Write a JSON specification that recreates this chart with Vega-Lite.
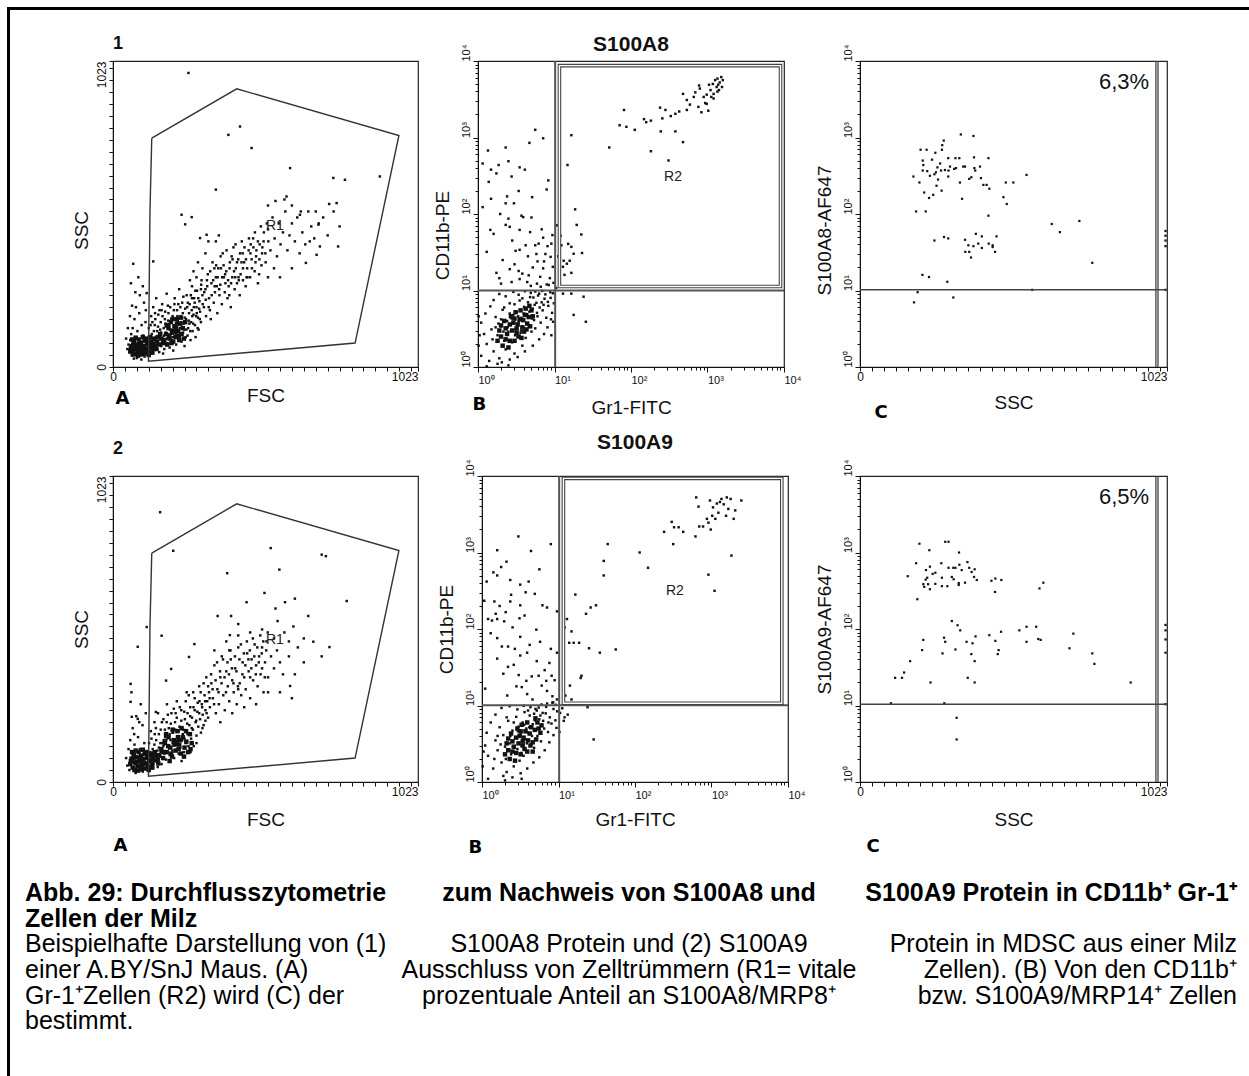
{
"$schema": "https://vega.github.io/schema/vega-lite/v6.json",
"background": "white",
"autosize": {"type": "pad"},
"padding": {"left": 7, "top": 7, "right": 0, "bottom": 0},
"config": {
 "view": {"stroke": null},
 "font": "Liberation Sans",
 "axis": {"grid": false, "domainColor": "#111", "tickColor": "#111", "labelColor": "#111", "titleColor": "#111", "titleFontWeight": "normal", "labelFont": "Liberation Sans", "titleFont": "Liberation Sans", "titleFontSize": 19, "labelFontSize": 12, "labelOverlap": false},
 "title": {"font": "Liberation Sans", "fontWeight": "bold", "color": "#111"},
 "text": {"font": "Liberation Sans"}
},
"datasets": {
"gateA": [{"i":0,"x":130,"y":765},{"i":1,"x":415,"y":930},{"i":2,"x":959,"y":774},{"i":3,"x":812,"y":80},{"i":4,"x":119,"y":19},{"i":5,"x":124,"y":520},{"i":6,"x":130,"y":765}],
"a1": [{"x":48,"y":60},{"x":52,"y":75},{"x":55,"y":48},{"x":58,"y":90},{"x":61,"y":110},{"x":63,"y":38},{"x":66,"y":130},{"x":70,"y":55},{"x":72,"y":160},{"x":74,"y":95},{"x":77,"y":200},{"x":79,"y":70},{"x":82,"y":120},{"x":85,"y":45},{"x":88,"y":180},{"x":90,"y":240},{"x":93,"y":85},{"x":96,"y":140},{"x":98,"y":60},{"x":101,"y":105},{"x":104,"y":215},{"x":106,"y":35},{"x":109,"y":150},{"x":60,"y":280},{"x":68,"y":345},{"x":75,"y":250},{"x":85,"y":300},{"x":100,"y":270},{"x":110,"y":190},{"x":44,"y":95},{"x":50,"y":130},{"x":57,"y":170},{"x":64,"y":205},{"x":112,"y":80},{"x":95,"y":25},{"x":80,"y":30},{"x":70,"y":28},
{"x":115,"y":60},{"x":118,"y":95},{"x":120,"y":130},{"x":122,"y":45},{"x":125,"y":75},{"x":128,"y":170},{"x":130,"y":110},{"x":133,"y":55},{"x":135,"y":200},{"x":138,"y":90},{"x":140,"y":140},{"x":143,"y":65},{"x":145,"y":230},{"x":148,"y":120},{"x":150,"y":80},{"x":152,"y":175},{"x":155,"y":50},{"x":157,"y":105},{"x":160,"y":150},{"x":162,"y":70},{"x":165,"y":210},{"x":167,"y":95},{"x":170,"y":130},{"x":172,"y":60},{"x":175,"y":185},{"x":177,"y":115},{"x":180,"y":245},{"x":182,"y":80},{"x":185,"y":155},{"x":187,"y":100},{"x":190,"y":65},{"x":192,"y":200},{"x":195,"y":125},{"x":197,"y":90},{"x":200,"y":170},{"x":202,"y":55},{"x":205,"y":140},{"x":207,"y":230},{"x":210,"y":110},{"x":212,"y":75},{"x":215,"y":190},{"x":217,"y":150},{"x":220,"y":95},{"x":222,"y":260},{"x":225,"y":130},{"x":227,"y":170},{"x":230,"y":85},{"x":232,"y":215},{"x":235,"y":115},{"x":237,"y":145},{"x":240,"y":70},{"x":242,"y":195},{"x":245,"y":160},{"x":247,"y":240},{"x":250,"y":105},{"x":252,"y":130},{"x":255,"y":180},{"x":257,"y":210},{"x":260,"y":90},{"x":262,"y":150},{"x":265,"y":270},{"x":267,"y":120},{"x":270,"y":175},{"x":272,"y":230},{"x":275,"y":140},{"x":277,"y":100},{"x":280,"y":200},{"x":282,"y":255},{"x":285,"y":165},{"x":287,"y":125},{"x":290,"y":220},{"x":292,"y":185},{"x":295,"y":150},{"x":297,"y":290},{"x":300,"y":240},
{"x":132,"y":150},{"x":141,"y":180},{"x":149,"y":60},{"x":158,"y":125},{"x":163,"y":190},{"x":168,"y":45},{"x":174,"y":160},{"x":179,"y":135},{"x":184,"y":205},{"x":189,"y":140},{"x":194,"y":110},{"x":199,"y":80},{"x":204,"y":190},{"x":209,"y":160},{"x":214,"y":125},{"x":219,"y":210},{"x":224,"y":100},{"x":229,"y":150},{"x":234,"y":180},{"x":239,"y":125},{"x":244,"y":100},{"x":249,"y":200},{"x":254,"y":155},{"x":259,"y":120},{"x":264,"y":190},{"x":269,"y":145},{"x":274,"y":215},{"x":279,"y":170},{"x":284,"y":130},{"x":289,"y":195},
{"x":126,"y":140},{"x":131,"y":88},{"x":137,"y":120},{"x":142,"y":160},{"x":146,"y":100},{"x":151,"y":135},{"x":156,"y":190},{"x":161,"y":115},{"x":166,"y":170},{"x":171,"y":105},{"x":176,"y":145},{"x":181,"y":95},{"x":186,"y":180},{"x":191,"y":125},{"x":196,"y":160},{"x":201,"y":100},{"x":206,"y":210},{"x":211,"y":145},{"x":216,"y":170},{"x":221,"y":120},{"x":226,"y":200},{"x":231,"y":130},{"x":236,"y":235},{"x":241,"y":165},{"x":246,"y":125},{"x":251,"y":215},{"x":256,"y":145},{"x":261,"y":240},{"x":266,"y":170},{"x":271,"y":200},{"x":276,"y":255},{"x":281,"y":180},{"x":286,"y":230},{"x":291,"y":160},{"x":296,"y":275},{"x":301,"y":210},{"x":306,"y":250},{"x":311,"y":225},{"x":316,"y":270},{"x":321,"y":200},{"x":326,"y":320},{"x":331,"y":240},{"x":336,"y":290},{"x":341,"y":270},{"x":346,"y":340},{"x":351,"y":300},{"x":356,"y":260},{"x":361,"y":370},{"x":366,"y":300},{"x":371,"y":340},{"x":376,"y":310},{"x":381,"y":390},{"x":386,"y":290},{"x":391,"y":330},{"x":396,"y":280},{"x":401,"y":360},{"x":406,"y":320},{"x":411,"y":410},{"x":416,"y":350},{"x":421,"y":300},{"x":426,"y":380},{"x":431,"y":350},{"x":436,"y":330},{"x":441,"y":400},{"x":446,"y":360},{"x":451,"y":300},{"x":456,"y":430},{"x":461,"y":380},{"x":466,"y":330},{"x":471,"y":400},{"x":476,"y":450},{"x":481,"y":390},{"x":486,"y":420},{"x":491,"y":360},{"x":496,"y":470},{"x":501,"y":400},{"x":506,"y":450},{"x":511,"y":380},{"x":516,"y":480},{"x":521,"y":420},
{"x":305,"y":200},{"x":310,"y":260},{"x":312,"y":170},{"x":318,"y":310},{"x":322,"y":230},{"x":325,"y":190},{"x":330,"y":280},{"x":334,"y":350},{"x":338,"y":215},{"x":342,"y":250},{"x":345,"y":300},{"x":350,"y":180},{"x":353,"y":330},{"x":357,"y":240},{"x":360,"y":275},{"x":365,"y":210},{"x":368,"y":380},{"x":372,"y":300},{"x":375,"y":250},{"x":380,"y":320},{"x":384,"y":230},{"x":388,"y":270},{"x":392,"y":350},{"x":395,"y":200},{"x":400,"y":300},{"x":404,"y":400},{"x":408,"y":260},{"x":412,"y":330},{"x":416,"y":280},{"x":420,"y":360},{"x":425,"y":240},{"x":428,"y":310},{"x":432,"y":420},{"x":436,"y":290},{"x":440,"y":350},{"x":445,"y":270},{"x":450,"y":330},{"x":455,"y":390},{"x":460,"y":300},{"x":465,"y":360},{"x":470,"y":430},{"x":475,"y":320},{"x":480,"y":370},{"x":486,"y":280},{"x":492,"y":410},{"x":498,"y":340},{"x":315,"y":290},{"x":328,"y":160},{"x":340,"y":330},{"x":348,"y":270},{"x":362,"y":330},{"x":377,"y":280},{"x":390,"y":240},{"x":398,"y":370},{"x":410,"y":300},{"x":422,"y":290},{"x":435,"y":380},{"x":448,"y":300},{"x":462,"y":410},{"x":478,"y":350},{"x":490,"y":310},{"x":500,"y":380},{"x":265,"y":230},{"x":280,"y":300},{"x":295,"y":260},{"x":300,"y":330},{"x":270,"y":320},{"x":258,"y":290},{"x":285,"y":350},{"x":310,"y":380},{"x":320,"y":420},{"x":345,"y":420},{"x":355,"y":440},
{"x":505,"y":420},{"x":512,"y":350},{"x":520,"y":460},{"x":528,"y":390},{"x":535,"y":500},{"x":542,"y":430},{"x":550,"y":370},{"x":556,"y":480},{"x":562,"y":410},{"x":570,"y":450},{"x":578,"y":520},{"x":585,"y":390},{"x":592,"y":440},{"x":600,"y":480},{"x":610,"y":420},{"x":618,"y":500},{"x":626,"y":380},{"x":635,"y":450},{"x":645,"y":410},{"x":655,"y":520},{"x":665,"y":470},{"x":675,"y":430},{"x":690,"y":480},{"x":705,"y":500},{"x":720,"y":440},{"x":740,"y":520},{"x":760,"y":470},{"x":520,"y":540},{"x":545,"y":555},{"x":575,"y":560},{"x":582,"y":570},{"x":600,"y":540},{"x":630,"y":520},{"x":680,"y":520},{"x":725,"y":545},{"x":750,"y":548},{"x":694,"y":403},{"x":683,"y":375},{"x":647,"y":348},{"x":627,"y":509},{"x":689,"y":476},{"x":755,"y":403},{"x":540,"y":330},{"x":600,"y":330},{"x":560,"y":300},{"x":520,"y":300},
{"x":253,"y":983},{"x":426,"y":804},{"x":387,"y":776},{"x":465,"y":732},{"x":594,"y":665},{"x":739,"y":632},{"x":778,"y":626},{"x":895,"y":637},{"x":345,"y":593},{"x":230,"y":509},{"x":264,"y":501},{"x":242,"y":477},{"x":314,"y":442},{"x":292,"y":431},{"x":135,"y":353},{"x":113,"y":247},{"x":660,"y":420}],
"a1c": [{"x":58,"y":55},{"x":62,"y":70},{"x":66,"y":48},{"x":70,"y":85},{"x":74,"y":60},{"x":78,"y":75},{"x":82,"y":50},{"x":86,"y":92},{"x":90,"y":65},{"x":94,"y":80},{"x":98,"y":55},{"x":102,"y":70},{"x":106,"y":88},{"x":110,"y":60},{"x":114,"y":75},{"x":118,"y":52},{"x":122,"y":68},{"x":126,"y":85},{"x":130,"y":62},{"x":134,"y":78},{"x":138,"y":95},{"x":64,"y":92},{"x":72,"y":42},{"x":84,"y":38},{"x":96,"y":42},{"x":108,"y":45},{"x":120,"y":40},{"x":76,"y":98},{"x":100,"y":100},{"x":124,"y":100},{"x":60,"y":62},{"x":88,"y":78},{"x":112,"y":95},{"x":132,"y":48},{"x":68,"y":75},{"x":92,"y":52},{"x":116,"y":88},{"x":80,"y":62},{"x":104,"y":58},{"x":128,"y":72},
{"x":172,"y":90},{"x":178,"y":110},{"x":182,"y":75},{"x":186,"y":130},{"x":190,"y":95},{"x":194,"y":150},{"x":198,"y":115},{"x":202,"y":85},{"x":206,"y":135},{"x":210,"y":100},{"x":214,"y":160},{"x":218,"y":120},{"x":222,"y":90},{"x":226,"y":145},{"x":230,"y":110},{"x":234,"y":130},{"x":238,"y":95},{"x":242,"y":150},{"x":200,"y":160},{"x":188,"y":105},{"x":212,"y":130},{"x":196,"y":80},{"x":220,"y":105},{"x":228,"y":165},{"x":180,"y":140},{"x":204,"y":120},{"x":216,"y":145},{"x":140,"y":70},{"x":148,"y":85},{"x":155,"y":75},{"x":162,"y":95},{"x":168,"y":80},{"x":150,"y":100},{"x":158,"y":110},{"x":145,"y":60}],
"a2": [{"x":44,"y":80},{"x":48,"y":55},{"x":52,"y":110},{"x":55,"y":40},{"x":58,"y":140},{"x":61,"y":70},{"x":64,"y":95},{"x":66,"y":180},{"x":69,"y":50},{"x":72,"y":125},{"x":75,"y":60},{"x":78,"y":220},{"x":81,"y":85},{"x":84,"y":150},{"x":87,"y":40},{"x":90,"y":110},{"x":93,"y":260},{"x":96,"y":65},{"x":99,"y":190},{"x":102,"y":90},{"x":105,"y":130},{"x":108,"y":45},{"x":110,"y":230},{"x":59,"y":328},{"x":59,"y":268},{"x":63,"y":218},{"x":83,"y":211},{"x":83,"y":452},{"x":113,"y":518},{"x":62,"y":300},{"x":71,"y":160},{"x":88,"y":200},{"x":100,"y":35},{"x":76,"y":30},
{"x":115,"y":55},{"x":118,"y":90},{"x":121,"y":130},{"x":124,"y":45},{"x":127,"y":170},{"x":130,"y":75},{"x":133,"y":110},{"x":136,"y":60},{"x":139,"y":200},{"x":142,"y":95},{"x":145,"y":140},{"x":148,"y":70},{"x":151,"y":230},{"x":154,"y":115},{"x":157,"y":85},{"x":160,"y":175},{"x":163,"y":60},{"x":166,"y":130},{"x":169,"y":210},{"x":172,"y":95},{"x":175,"y":150},{"x":178,"y":75},{"x":181,"y":260},{"x":184,"y":120},{"x":187,"y":180},{"x":190,"y":90},{"x":193,"y":140},{"x":196,"y":230},{"x":199,"y":105},{"x":202,"y":165},{"x":205,"y":80},{"x":208,"y":200},{"x":211,"y":125},{"x":214,"y":270},{"x":217,"y":150},{"x":220,"y":95},{"x":223,"y":185},{"x":226,"y":115},{"x":229,"y":240},{"x":232,"y":140},{"x":235,"y":175},{"x":238,"y":100},{"x":241,"y":210},{"x":244,"y":130},{"x":247,"y":300},{"x":250,"y":160},{"x":253,"y":120},{"x":256,"y":190},{"x":259,"y":250},{"x":262,"y":145},{"x":265,"y":215},{"x":268,"y":175},{"x":271,"y":120},{"x":274,"y":280},{"x":277,"y":200},{"x":280,"y":155},{"x":283,"y":235},{"x":286,"y":185},{"x":289,"y":320},{"x":292,"y":210},{"x":295,"y":165},{"x":298,"y":260},{"x":301,"y":225},{"x":304,"y":190},{"x":307,"y":290},{"x":310,"y":240},{"x":313,"y":350},{"x":316,"y":270},{"x":319,"y":215},{"x":322,"y":300},{"x":140,"y":160},{"x":150,"y":50},{"x":160,"y":100},{"x":170,"y":140},{"x":180,"y":200},{"x":190,"y":160},{"x":200,"y":130},{"x":210,"y":230},{"x":220,"y":170},{"x":230,"y":70},{"x":240,"y":145},{"x":250,"y":230},{"x":260,"y":100},{"x":270,"y":250},{"x":280,"y":130},{"x":290,"y":270},{"x":300,"y":180},{"x":310,"y":205},
{"x":124,"y":100},{"x":129,"y":145},{"x":134,"y":80},{"x":139,"y":125},{"x":144,"y":180},{"x":149,"y":105},{"x":154,"y":160},{"x":159,"y":130},{"x":164,"y":200},{"x":169,"y":120},{"x":174,"y":175},{"x":179,"y":140},{"x":184,"y":225},{"x":189,"y":150},{"x":194,"y":195},{"x":199,"y":165},{"x":204,"y":245},{"x":209,"y":175},{"x":214,"y":215},{"x":219,"y":140},{"x":224,"y":250},{"x":229,"y":205},{"x":234,"y":160},{"x":239,"y":235},{"x":244,"y":270},{"x":249,"y":195},{"x":254,"y":290},{"x":259,"y":220},{"x":264,"y":180},{"x":269,"y":300},{"x":274,"y":240},{"x":279,"y":205},{"x":284,"y":265},{"x":289,"y":230},{"x":294,"y":300},{"x":299,"y":250},{"x":304,"y":330},{"x":309,"y":270},{"x":314,"y":230},{"x":319,"y":320},{"x":324,"y":280},{"x":329,"y":360},{"x":334,"y":310},{"x":339,"y":260},{"x":344,"y":340},{"x":349,"y":400},{"x":354,"y":300},{"x":359,"y":370},{"x":364,"y":330},{"x":369,"y":410},{"x":374,"y":350},{"x":379,"y":300},{"x":384,"y":400},{"x":389,"y":360},{"x":394,"y":440},{"x":399,"y":380},{"x":404,"y":330},{"x":409,"y":420},{"x":414,"y":370},{"x":419,"y":320},{"x":424,"y":410},{"x":429,"y":460},{"x":434,"y":360},{"x":439,"y":430},{"x":444,"y":390},{"x":449,"y":470},{"x":454,"y":410},{"x":459,"y":440},{"x":464,"y":380},{"x":469,"y":480},{"x":474,"y":420},{"x":479,"y":360},{"x":484,"y":450},{"x":489,"y":400},{"x":494,"y":490},{"x":499,"y":430},{"x":504,"y":470},{"x":509,"y":350},{"x":514,"y":440},{"x":519,"y":500},
{"x":325,"y":250},{"x":330,"y":330},{"x":335,"y":280},{"x":340,"y":390},{"x":345,"y":230},{"x":350,"y":310},{"x":355,"y":260},{"x":360,"y":350},{"x":365,"y":420},{"x":370,"y":290},{"x":375,"y":240},{"x":380,"y":370},{"x":385,"y":320},{"x":390,"y":270},{"x":395,"y":410},{"x":400,"y":340},{"x":405,"y":300},{"x":410,"y":380},{"x":415,"y":260},{"x":420,"y":450},{"x":425,"y":330},{"x":430,"y":290},{"x":435,"y":400},{"x":440,"y":350},{"x":445,"y":310},{"x":450,"y":430},{"x":455,"y":370},{"x":460,"y":280},{"x":465,"y":410},{"x":470,"y":340},{"x":475,"y":460},{"x":480,"y":390},{"x":485,"y":320},{"x":490,"y":420},{"x":495,"y":360},{"x":500,"y":450},{"x":505,"y":300},{"x":510,"y":400},{"x":515,"y":470},{"x":520,"y":350},{"x":530,"y":420},{"x":540,"y":380},{"x":550,"y":440},{"x":560,"y":400},{"x":570,"y":360},{"x":520,"y":300},{"x":480,"y":260},{"x":440,"y":250},{"x":400,"y":230},{"x":360,"y":200},{"x":340,"y":440},{"x":380,"y":470},{"x":420,"y":490},{"x":460,"y":500},{"x":500,"y":510},{"x":540,"y":480},{"x":500,"y":380},{"x":460,"y":350},{"x":420,"y":310},{"x":390,"y":440},
{"x":575,"y":500},{"x":590,"y":470},{"x":605,"y":520},{"x":620,"y":450},{"x":640,"y":480},{"x":655,"y":555},{"x":672,"y":469},{"x":726,"y":451},{"x":577,"y":601},{"x":610,"y":613},{"x":552,"y":538},{"x":420,"y":528},{"x":396,"y":555},{"x":351,"y":555},{"x":392,"y":491},{"x":273,"y":461},{"x":255,"y":418},{"x":163,"y":489},{"x":144,"y":234},{"x":195,"y":378},{"x":178,"y":339},{"x":594,"y":321},{"x":610,"y":360},{"x":640,"y":400},{"x":700,"y":420},{"x":560,"y":300},{"x":600,"y":280},{"x":590,"y":420},{"x":545,"y":580},
{"x":158,"y":902},{"x":202,"y":773},{"x":529,"y":782},{"x":714,"y":755},{"x":558,"y":710},{"x":383,"y":698},{"x":508,"y":632},{"x":448,"y":601},{"x":784,"y":605},{"x":700,"y":760}],
"a2c": [{"x":58,"y":60},{"x":62,"y":78},{"x":66,"y":48},{"x":70,"y":92},{"x":74,"y":65},{"x":78,"y":82},{"x":82,"y":52},{"x":86,"y":100},{"x":90,"y":70},{"x":94,"y":88},{"x":98,"y":58},{"x":102,"y":76},{"x":106,"y":95},{"x":110,"y":62},{"x":114,"y":80},{"x":118,"y":50},{"x":122,"y":70},{"x":126,"y":90},{"x":130,"y":60},{"x":134,"y":82},{"x":64,"y":100},{"x":72,"y":40},{"x":84,"y":38},{"x":96,"y":42},{"x":108,"y":45},{"x":120,"y":40},{"x":76,"y":105},{"x":100,"y":108},{"x":60,"y":70},{"x":88,"y":82},{"x":112,"y":100},{"x":132,"y":48},{"x":68,"y":80},{"x":92,"y":54},{"x":116,"y":92},{"x":80,"y":66},{"x":104,"y":62},{"x":128,"y":75},
{"x":155,"y":90},{"x":162,"y":110},{"x":168,"y":80},{"x":174,"y":130},{"x":180,"y":100},{"x":186,"y":150},{"x":192,"y":115},{"x":198,"y":85},{"x":204,"y":140},{"x":210,"y":105},{"x":216,"y":170},{"x":222,"y":125},{"x":228,"y":95},{"x":234,"y":150},{"x":240,"y":115},{"x":246,"y":135},{"x":252,"y":100},{"x":258,"y":160},{"x":264,"y":130},{"x":200,"y":175},{"x":185,"y":120},{"x":212,"y":135},{"x":195,"y":95},{"x":220,"y":110},{"x":230,"y":180},{"x":178,"y":160},{"x":206,"y":125},{"x":218,"y":150},{"x":245,"y":170},{"x":170,"y":100},{"x":238,"y":85},{"x":260,"y":110},{"x":226,"y":140},{"x":190,"y":70},{"x":150,"y":75},{"x":140,"y":72},{"x":146,"y":88},{"x":152,"y":62},{"x":140,"y":100},{"x":135,"y":95}],
"b1": [{"x":1.3,"y":2.0},{"x":1.5,"y":3.1},{"x":1.6,"y":1.6},{"x":1.7,"y":4.5},{"x":1.8,"y":2.6},{"x":1.9,"y":1.3},{"x":2.0,"y":3.4},{"x":2.1,"y":5.6},{"x":2.2,"y":2.2},{"x":2.3,"y":1.7},{"x":2.4,"y":4.0},{"x":2.5,"y":2.9},{"x":2.6,"y":6.8},{"x":2.7,"y":3.6},{"x":2.8,"y":2.1},{"x":2.9,"y":4.8},{"x":3.0,"y":1.5},{"x":3.1,"y":3.1},{"x":3.2,"y":5.2},{"x":3.3,"y":2.5},{"x":3.4,"y":3.9},{"x":3.5,"y":7.4},{"x":3.6,"y":2.8},{"x":3.7,"y":4.4},{"x":3.8,"y":1.9},{"x":3.9,"y":3.3},{"x":4.0,"y":6.1},{"x":4.2,"y":2.4},{"x":4.4,"y":4.9},{"x":4.6,"y":3.5},{"x":4.8,"y":8.2},{"x":5.0,"y":2.9},{"x":5.2,"y":5.8},{"x":5.4,"y":4.1},{"x":5.6,"y":3.2},{"x":5.8,"y":6.9},{"x":6.0,"y":4.6},{"x":6.3,"y":9.1},{"x":6.6,"y":3.8},{"x":7.0,"y":5.5},{"x":7.4,"y":7.8},{"x":7.8,"y":4.4},{"x":8.3,"y":6.3},{"x":8.8,"y":9.5},{"x":9.3,"y":5.1},{"x":1.1,"y":1.4},{"x":1.2,"y":2.7},{"x":1.4,"y":1.2},{"x":1.1,"y":3.8},{"x":1.25,"y":5.0},{"x":1.45,"y":6.2},{"x":1.6,"y":7.5},{"x":1.9,"y":9.0},{"x":2.3,"y":8.4},{"x":2.9,"y":9.6},{"x":3.4,"y":8.8},{"x":4.1,"y":9.8},{"x":4.9,"y":9.3},{"x":5.6,"y":9.7},{"x":6.9,"y":9.9},{"x":7.6,"y":8.9},{"x":8.2,"y":7.1},{"x":8.9,"y":8.0},{"x":9.5,"y":9.2},{"x":2.05,"y":1.15},{"x":2.6,"y":1.25},{"x":3.3,"y":1.35},{"x":4.1,"y":1.6},{"x":5.2,"y":1.9},{"x":6.3,"y":2.3},{"x":7.3,"y":2.7},{"x":8.1,"y":3.3},{"x":9.0,"y":4.2},{"x":1.55,"y":2.3},{"x":1.85,"y":3.7},{"x":2.15,"y":2.9},{"x":2.45,"y":3.3},{"x":2.75,"y":4.3},{"x":3.05,"y":2.6},{"x":3.35,"y":4.6},{"x":3.65,"y":3.0},{"x":3.95,"y":5.0},{"x":4.3,"y":3.7},{"x":4.7,"y":5.3},{"x":5.1,"y":4.3},{"x":5.5,"y":6.5},{"x":5.9,"y":5.1},{"x":6.4,"y":6.0},{"x":6.8,"y":7.0},{"x":7.2,"y":6.5},{"x":2.2,"y":6.0},{"x":2.6,"y":5.0},{"x":3.0,"y":6.6},{"x":2.0,"y":4.2},{"x":1.7,"y":3.3},{"x":3.8,"y":7.9},{"x":4.5,"y":7.0},{"x":5.3,"y":8.1},{"x":6.1,"y":8.6},{"x":1.3,"y":1.02},{"x":1.8,"y":1.1},{"x":2.5,"y":1.05},{"x":1.02,"y":1.9},{"x":1.05,"y":2.6},{"x":1.02,"y":4.6},{"x":10.5,"y":10.8},{"x":9.8,"y":6.8},{"x":9.6,"y":3.9},{"x":9.1,"y":2.6},
{"x":5.6,"y":1260},{"x":7.1,"y":977},{"x":4.7,"y":851},{"x":1.35,"y":676},{"x":2.3,"y":741},{"x":1.15,"y":457},{"x":1.86,"y":437},{"x":2.5,"y":490},{"x":1.48,"y":380},{"x":3.5,"y":407},{"x":4.1,"y":380},{"x":2.75,"y":309},{"x":8.3,"y":275},{"x":1.38,"y":263},{"x":1.74,"y":339},{"x":7.9,"y":209},{"x":3.4,"y":200},{"x":5.1,"y":166},{"x":1.48,"y":158},{"x":2.3,"y":138},{"x":2.95,"y":138},{"x":1.15,"y":123},{"x":1.95,"y":100},{"x":3.7,"y":95},{"x":3.9,"y":91},{"x":2.5,"y":87},{"x":2.3,"y":72},{"x":2.6,"y":68},{"x":1.45,"y":62},{"x":3.5,"y":62},{"x":4.8,"y":58},{"x":4.2,"y":39},{"x":5.6,"y":39},{"x":7.1,"y":49},{"x":6.2,"y":41},{"x":9.1,"y":41},{"x":3.5,"y":34},{"x":7.6,"y":30},{"x":3.0,"y":22},{"x":3.4,"y":18},{"x":5.2,"y":20},{"x":3.8,"y":16.6},{"x":4.6,"y":15.8},{"x":1.74,"y":17},{"x":2.0,"y":12.3},{"x":7.1,"y":19.5},{"x":8.7,"y":14.5},{"x":9.5,"y":20.4},{"x":8.9,"y":27.5},{"x":6.5,"y":15.1},{"x":2.75,"y":12.9},{"x":3.5,"y":14.1},{"x":4.4,"y":12.9},{"x":5.9,"y":12.3},{"x":7.9,"y":12.0},{"x":1.6,"y":55},{"x":2.1,"y":25},{"x":2.8,"y":45},{"x":4.5,"y":28},{"x":6.0,"y":24},{"x":1.3,"y":32},{"x":2.4,"y":170},{"x":3.1,"y":33},{"x":5.0,"y":90},{"x":6.8,"y":63},{"x":8.1,"y":38},{"x":9.4,"y":53},{"x":1.9,"y":14.5},{"x":2.6,"y":19},{"x":4.9,"y":11.5},{"x":6.6,"y":11.2},{"x":8.4,"y":11.8},{"x":9.7,"y":12.6},{"x":5.8,"y":30},{"x":7.3,"y":24},
{"x":16.6,"y":1072},{"x":14.8,"y":437},{"x":18.6,"y":115},{"x":19.5,"y":72},{"x":22.4,"y":54},{"x":10.7,"y":71},{"x":12.3,"y":39},{"x":13.2,"y":24.5},{"x":15.1,"y":40.7},{"x":16.6,"y":37.2},{"x":17.8,"y":30.2},{"x":16.6,"y":17},{"x":22.9,"y":30.9},{"x":11.7,"y":13.5},{"x":12.9,"y":20.4},{"x":14.5,"y":22.4},{"x":15.8,"y":24.5},{"x":13.5,"y":16},{"x":11.2,"y":28},{"x":12.0,"y":52},{"x":16.6,"y":9.1},{"x":24,"y":8.3},{"x":17.8,"y":4.8},{"x":25.7,"y":3.9},{"x":12.9,"y":9.1},
{"x":71,"y":1445},{"x":81,"y":2290},{"x":87,"y":1380},{"x":112,"y":1259},{"x":52,"y":741},{"x":148,"y":1738},{"x":158,"y":1585},{"x":182,"y":1660},{"x":182,"y":661},{"x":240,"y":2455},{"x":257,"y":1778},{"x":245,"y":1202},{"x":282,"y":2291},{"x":309,"y":501},{"x":331,"y":1905},{"x":380,"y":2042},{"x":380,"y":1202},{"x":427,"y":2188},{"x":479,"y":3715},{"x":479,"y":871},{"x":537,"y":2291},{"x":537,"y":3090},{"x":589,"y":2692},{"x":661,"y":3388},{"x":692,"y":3890},{"x":759,"y":2512},{"x":776,"y":4786},{"x":794,"y":4365},{"x":832,"y":2138},{"x":891,"y":3388},{"x":933,"y":2818},{"x":977,"y":3631},{"x":1023,"y":2239},{"x":1047,"y":4898},{"x":1096,"y":4169},{"x":1122,"y":3388},{"x":1175,"y":5012},{"x":1202,"y":3715},{"x":1259,"y":5623},{"x":1318,"y":4571},{"x":1349,"y":5888},{"x":1380,"y":4898},{"x":1413,"y":4169},{"x":1445,"y":5248},{"x":1514,"y":6166},{"x":1549,"y":4571},{"x":1585,"y":5623},{"x":977,"y":2754},{"x":1202,"y":3236},{"x":1349,"y":3981}],
"b1c": [{"x":2.0,"y":2.5},{"x":2.3,"y":3.2},{"x":2.6,"y":2.2},{"x":2.9,"y":3.8},{"x":3.2,"y":2.8},{"x":3.5,"y":4.2},{"x":3.8,"y":3.3},{"x":4.1,"y":4.8},{"x":4.4,"y":3.7},{"x":2.2,"y":4.0},{"x":2.7,"y":4.6},{"x":3.1,"y":5.2},{"x":3.6,"y":5.5},{"x":4.2,"y":5.8},{"x":1.9,"y":3.0},{"x":2.4,"y":2.7},{"x":2.8,"y":3.0},{"x":3.3,"y":3.6},{"x":3.9,"y":4.1},{"x":4.6,"y":4.5},{"x":2.1,"y":1.9},{"x":2.5,"y":1.8},{"x":3.0,"y":2.2},{"x":3.4,"y":2.5},{"x":4.0,"y":2.9},{"x":4.8,"y":3.4},{"x":5.2,"y":4.6},{"x":2.6,"y":3.6},{"x":3.0,"y":4.3},{"x":3.7,"y":2.4},{"x":2.3,"y":2.3},{"x":3.2,"y":3.2},{"x":4.3,"y":3.1},{"x":5.0,"y":5.5},{"x":1.8,"y":2.2},{"x":2.0,"y":3.5},{"x":4.7,"y":6.3}],
"b2": [{"x":1.2,"y":2.2},{"x":1.4,"y":1.5},{"x":1.5,"y":3.5},{"x":1.6,"y":2.6},{"x":1.7,"y":5.2},{"x":1.8,"y":1.8},{"x":1.9,"y":4.1},{"x":2.0,"y":2.9},{"x":2.1,"y":1.35},{"x":2.2,"y":6.3},{"x":2.3,"y":3.2},{"x":2.4,"y":2.3},{"x":2.5,"y":4.7},{"x":2.6,"y":1.6},{"x":2.7,"y":3.8},{"x":2.8,"y":7.1},{"x":2.9,"y":2.7},{"x":3.0,"y":5.3},{"x":3.1,"y":1.9},{"x":3.2,"y":4.2},{"x":3.3,"y":3.0},{"x":3.4,"y":6.0},{"x":3.5,"y":2.2},{"x":3.6,"y":8.2},{"x":3.7,"y":3.6},{"x":3.8,"y":5.0},{"x":3.9,"y":2.5},{"x":4.0,"y":4.4},{"x":4.2,"y":7.4},{"x":4.4,"y":3.1},{"x":4.6,"y":5.7},{"x":4.8,"y":2.8},{"x":5.0,"y":9.0},{"x":5.3,"y":4.0},{"x":5.6,"y":6.6},{"x":5.9,"y":3.4},{"x":6.2,"y":8.0},{"x":6.5,"y":5.0},{"x":6.9,"y":9.6},{"x":7.3,"y":4.5},{"x":7.7,"y":7.0},{"x":8.1,"y":5.8},{"x":8.6,"y":9.0},{"x":9.1,"y":6.4},{"x":9.6,"y":8.4},{"x":1.1,"y":3.0},{"x":1.15,"y":4.4},{"x":1.3,"y":6.0},{"x":1.5,"y":7.6},{"x":1.8,"y":9.3},{"x":2.3,"y":9.8},{"x":2.9,"y":8.9},{"x":3.5,"y":9.9},{"x":4.3,"y":9.5},{"x":5.2,"y":8.6},{"x":6.0,"y":10.3},{"x":7.1,"y":10.6},{"x":8.3,"y":10.9},{"x":9.2,"y":10.2},{"x":1.9,"y":1.2},{"x":2.5,"y":1.15},{"x":3.2,"y":1.3},{"x":3.9,"y":1.5},{"x":4.7,"y":1.8},{"x":5.6,"y":2.1},{"x":6.6,"y":2.6},{"x":7.6,"y":3.3},{"x":8.6,"y":4.1},{"x":9.4,"y":5.1},{"x":1.45,"y":2.0},{"x":1.75,"y":3.1},{"x":2.05,"y":2.0},{"x":2.35,"y":4.0},{"x":2.65,"y":2.8},{"x":2.95,"y":4.6},{"x":3.25,"y":2.4},{"x":3.55,"y":5.6},{"x":3.85,"y":3.2},{"x":4.15,"y":5.2},{"x":4.5,"y":4.0},{"x":4.9,"y":6.4},{"x":5.4,"y":5.0},{"x":5.8,"y":7.4},{"x":6.3,"y":6.3},{"x":6.8,"y":7.9},{"x":7.4,"y":6.0},{"x":2.1,"y":7.0},{"x":2.6,"y":6.0},{"x":1.6,"y":4.0},{"x":4.0,"y":8.6},{"x":4.8,"y":7.8},{"x":5.5,"y":9.4},{"x":1.2,"y":1.1},{"x":1.02,"y":1.6},{"x":1.05,"y":2.5},{"x":2.0,"y":1.05},{"x":3.3,"y":1.1},{"x":10.5,"y":8.0},{"x":10.3,"y":4.5},{"x":11.2,"y":9.2},{"x":12,"y":7},
{"x":2.99,"y":1622},{"x":1.58,"y":1072},{"x":7.94,"y":1288},{"x":4.37,"y":1047},{"x":2.09,"y":759},{"x":1.78,"y":646},{"x":5.62,"y":603},{"x":1.41,"y":550},{"x":1.58,"y":501},{"x":2.34,"y":437},{"x":4.07,"y":417},{"x":1.15,"y":417},{"x":3.16,"y":380},{"x":3.72,"y":302},{"x":4.9,"y":288},{"x":1.07,"y":234},{"x":1.45,"y":229},{"x":2.34,"y":229},{"x":3.16,"y":204},{"x":6.17,"y":204},{"x":7.08,"y":191},{"x":9.55,"y":170},{"x":2.04,"y":166},{"x":1.51,"y":158},{"x":1.2,"y":135},{"x":1.35,"y":129},{"x":1.58,"y":135},{"x":1.95,"y":126},{"x":3.09,"y":138},{"x":2.51,"y":105},{"x":3.16,"y":79},{"x":5.13,"y":98},{"x":1.58,"y":76},{"x":1.82,"y":59},{"x":2.19,"y":59},{"x":2.69,"y":55},{"x":3.16,"y":45},{"x":3.89,"y":49},{"x":5.75,"y":68},{"x":7.94,"y":55},{"x":9.55,"y":49},{"x":1.58,"y":41},{"x":2.19,"y":32},{"x":3.02,"y":25},{"x":3.8,"y":21},{"x":4.47,"y":24},{"x":5.5,"y":24.5},{"x":6.92,"y":21},{"x":8.13,"y":24.5},{"x":8.91,"y":21.4},{"x":2.82,"y":17.8},{"x":3.31,"y":17.4},{"x":3.89,"y":14.1},{"x":4.57,"y":12.0},{"x":1.1,"y":16.6},{"x":2.14,"y":13.5},{"x":6.03,"y":18.2},{"x":7.08,"y":15.5},{"x":8.32,"y":13.2},{"x":8.51,"y":11.0},{"x":9.55,"y":12.0},{"x":1.3,"y":88},{"x":2.6,"y":34},{"x":4.2,"y":62},{"x":5.2,"y":38},{"x":6.6,"y":29},{"x":1.9,"y":26},{"x":7.6,"y":36},{"x":2.4,"y":280},{"x":1.7,"y":200},{"x":3.6,"y":150},
{"x":11.7,"y":692},{"x":16.6,"y":282},{"x":26.3,"y":191},{"x":30.9,"y":204},{"x":22.9,"y":158},{"x":12.9,"y":135},{"x":14.8,"y":93},{"x":12.0,"y":105},{"x":13.8,"y":66},{"x":15.8,"y":66},{"x":18.6,"y":66},{"x":25.1,"y":56},{"x":34.7,"y":49},{"x":56,"y":54},{"x":20,"y":24.5},{"x":19.5,"y":22.9},{"x":14.1,"y":18.2},{"x":12.3,"y":13.5},{"x":14.8,"y":12.0},{"x":13.2,"y":7.6},{"x":11.7,"y":6.3},{"x":24,"y":9.5},{"x":28.8,"y":3.6},
{"x":631,"y":5248},{"x":676,"y":3981},{"x":955,"y":4786},{"x":1288,"y":4571},{"x":1349,"y":5012},{"x":1585,"y":5248},{"x":1778,"y":5012},{"x":2042,"y":3548},{"x":2455,"y":4786},{"x":1023,"y":3020},{"x":912,"y":2455},{"x":776,"y":2188},{"x":692,"y":2188},{"x":977,"y":1995},{"x":871,"y":2754},{"x":1175,"y":4365},{"x":1047,"y":3890},{"x":1445,"y":4266},{"x":1660,"y":3715},{"x":1950,"y":2754},{"x":1549,"y":3020},{"x":1230,"y":3311},{"x":1122,"y":2754},{"x":302,"y":2512},{"x":324,"y":2138},{"x":372,"y":2138},{"x":427,"y":1862},{"x":240,"y":1862},{"x":316,"y":1288},{"x":617,"y":1622},{"x":44,"y":1288},{"x":115,"y":1000},{"x":148,"y":631},{"x":39,"y":776},{"x":39,"y":501},{"x":1820,"y":912},{"x":912,"y":513},{"x":1096,"y":316}],
"b2c": [{"x":2.2,"y":2.6},{"x":2.5,"y":3.4},{"x":2.8,"y":2.4},{"x":3.1,"y":4.0},{"x":3.4,"y":3.0},{"x":3.7,"y":4.6},{"x":4.0,"y":3.5},{"x":4.4,"y":5.2},{"x":2.4,"y":4.3},{"x":2.9,"y":5.0},{"x":3.3,"y":5.6},{"x":3.9,"y":6.0},{"x":2.1,"y":3.2},{"x":2.6,"y":2.9},{"x":3.0,"y":3.2},{"x":3.5,"y":3.8},{"x":4.2,"y":4.3},{"x":4.9,"y":4.8},{"x":2.3,"y":2.0},{"x":2.7,"y":1.9},{"x":3.2,"y":2.3},{"x":3.6,"y":2.7},{"x":4.3,"y":3.0},{"x":5.1,"y":3.6},{"x":5.5,"y":5.0},{"x":2.8,"y":3.8},{"x":3.2,"y":4.6},{"x":3.9,"y":2.5},{"x":2.5,"y":2.5},{"x":3.4,"y":3.4},{"x":4.6,"y":3.3},{"x":5.3,"y":6.0},{"x":2.0,"y":2.3},{"x":2.2,"y":3.7},{"x":5.0,"y":6.8},{"x":6.0,"y":5.5},{"x":4.6,"y":2.5},{"x":5.8,"y":4.4}],
"c1": [{"x":178,"y":309},{"x":187,"y":108},{"x":198,"y":258},{"x":202,"y":692},{"x":209,"y":500},{"x":209,"y":370},{"x":211,"y":437},{"x":214,"y":191},{"x":219,"y":108},{"x":222,"y":692},{"x":224,"y":363},{"x":230,"y":162},{"x":233,"y":316},{"x":240,"y":513},{"x":244,"y":178},{"x":248,"y":331},{"x":251,"y":631},{"x":253,"y":351},{"x":255,"y":234},{"x":258,"y":407},{"x":260,"y":282},{"x":267,"y":457},{"x":270,"y":370},{"x":272,"y":202},{"x":273,"y":692},{"x":274,"y":794},{"x":279,"y":912},{"x":283,"y":376},{"x":294,"y":537},{"x":294,"y":309},{"x":295,"y":370},{"x":300,"y":417},{"x":314,"y":389},{"x":318,"y":537},{"x":320,"y":398},{"x":331,"y":537},{"x":333,"y":258},{"x":336,"y":1096},{"x":340,"y":158},{"x":344,"y":417},{"x":350,"y":417},{"x":364,"y":288},{"x":371,"y":302},{"x":378,"y":1047},{"x":380,"y":550},{"x":381,"y":398},{"x":384,"y":370},{"x":400,"y":417},{"x":403,"y":295},{"x":411,"y":240},{"x":422,"y":240},{"x":428,"y":537},{"x":431,"y":214},{"x":428,"y":95},{"x":478,"y":166},{"x":489,"y":135},{"x":486,"y":258},{"x":511,"y":258},{"x":555,"y":324},{"x":248,"y":45},{"x":280,"y":50},{"x":294,"y":48},{"x":350,"y":46},{"x":351,"y":32},{"x":364,"y":32},{"x":370,"y":27},{"x":361,"y":39},{"x":378,"y":38},{"x":386,"y":55},{"x":394,"y":41},{"x":406,"y":36},{"x":406,"y":51},{"x":429,"y":41},{"x":442,"y":39},{"x":442,"y":37},{"x":450,"y":32},{"x":455,"y":51},{"x":639,"y":74},{"x":666,"y":58},{"x":731,"y":81},{"x":774,"y":23},{"x":208,"y":16},{"x":230,"y":15},{"x":291,"y":13},{"x":192,"y":9.5},{"x":180,"y":7},{"x":311,"y":8.1},{"x":574,"y":10.2},{"x":1018,"y":38},{"x":1018,"y":45},{"x":1018,"y":52},{"x":1018,"y":60},{"x":1018,"y":10.2}],
"c2": [{"x":198,"y":1303},{"x":231,"y":1072},{"x":284,"y":1380},{"x":295,"y":1380},{"x":330,"y":1000},{"x":187,"y":724},{"x":271,"y":724},{"x":358,"y":750},{"x":331,"y":692},{"x":233,"y":653},{"x":295,"y":631},{"x":311,"y":631},{"x":318,"y":631},{"x":364,"y":631},{"x":382,"y":603},{"x":220,"y":589},{"x":339,"y":589},{"x":372,"y":556},{"x":251,"y":544},{"x":242,"y":525},{"x":159,"y":490},{"x":273,"y":468},{"x":224,"y":468},{"x":306,"y":479},{"x":380,"y":479},{"x":219,"y":442},{"x":389,"y":437},{"x":312,"y":447},{"x":451,"y":457},{"x":438,"y":427},{"x":471,"y":437},{"x":251,"y":389},{"x":329,"y":398},{"x":350,"y":403},{"x":611,"y":403},{"x":211,"y":385},{"x":227,"y":385},{"x":291,"y":363},{"x":273,"y":363},{"x":214,"y":355},{"x":329,"y":376},{"x":598,"y":339},{"x":233,"y":331},{"x":450,"y":305},{"x":191,"y":245},{"x":306,"y":127},{"x":325,"y":112},{"x":334,"y":96},{"x":555,"y":107},{"x":587,"y":107},{"x":531,"y":96},{"x":470,"y":92},{"x":711,"y":87},{"x":280,"y":77},{"x":431,"y":83},{"x":385,"y":80},{"x":211,"y":72},{"x":284,"y":68},{"x":355,"y":68},{"x":451,"y":70},{"x":555,"y":68},{"x":594,"y":74},{"x":602,"y":72},{"x":375,"y":65},{"x":698,"y":56},{"x":207,"y":53},{"x":318,"y":54},{"x":462,"y":53},{"x":275,"y":48},{"x":774,"y":48},{"x":371,"y":47},{"x":459,"y":47},{"x":781,"y":35},{"x":382,"y":38},{"x":167,"y":38},{"x":147,"y":27},{"x":117,"y":23},{"x":140,"y":23},{"x":359,"y":23},{"x":235,"y":20},{"x":382,"y":20},{"x":902,"y":20},{"x":103,"y":10.7},{"x":281,"y":10.7},{"x":322,"y":6.9},{"x":322,"y":3.6},{"x":1018,"y":113},{"x":1018,"y":96},{"x":1018,"y":73},{"x":1018,"y":49},{"x":1018,"y":10.4}]
},
"hconcat": [
 {"width": 1, "height": 1068, "data": {"values": []}, "mark": {"type": "rule"}, "encoding": {}, "view": {"stroke": "#000", "strokeWidth": 2}},
 {"vconcat": [
  {"width": 1240, "height": 1, "data": {"values": []}, "mark": {"type": "rule"}, "encoding": {}, "view": {"stroke": "#000", "strokeWidth": 2}},
  {"width": 10, "height": 52, "data": {"values": []}, "mark": {"type": "rule"}, "encoding": {}},
  {"hconcat": [
    {"width": 44, "height": 1, "data": {"values": []}, "mark": {"type": "rule"}, "encoding": {}},
    {"width": 305, "height": 306, "view": {"stroke": "#222", "strokeWidth": 1.2},
     "title": {"text": "1", "anchor": "start", "frame": "group", "fontSize": 18, "offset": 8},
     "resolve": {"axis": {"x": "independent", "y": "independent"}},
     "layer": [
      {"data": {"name": "a1"}, "mark": {"type": "point", "shape": "square", "filled": true, "size": 6, "color": "#111", "opacity": 1, "strokeWidth": 0},
       "encoding": {"x": {"field": "x", "type": "quantitative", "scale": {"domain": [0, 1023], "nice": false, "zero": false}, "axis": {"orient": "bottom", "title": "FSC", "values": [0,40,80,120,160,200,240,280,320,360,400,440,480,520,560,600,640,680,720,760,800,840,880,920,960,1000,1023], "format": "d", "labelExpr": "datum.value == 0 || datum.value == 1023 ? datum.label : ''", "labelAlign": {"condition": {"test": "datum.value == 1023", "value": "right"}, "value": "center"}, "tickSize": 4, "labelPadding": 0, "titleY": 19, "titleBaseline": "top"}},
                    "y": {"field": "y", "type": "quantitative", "scale": {"domain": [0, 1023], "nice": false, "zero": false}, "axis": {"orient": "left", "title": "SSC", "values": [0,40,80,120,160,200,240,280,320,360,400,440,480,520,560,600,640,680,720,760,800,840,880,920,960,1000,1023], "format": "d", "labelExpr": "datum.value == 0 || datum.value == 1023 ? datum.label : ''", "labelAngle": -90, "labelAlign": {"condition": {"test": "datum.value == 1023", "value": "right"}, "value": "center"}, "labelBaseline": "bottom", "tickSize": 4, "labelPadding": 1, "titleY": 169, "titlePadding": 4}}}},
      {"data": {"name": "a1c"}, "mark": {"type": "point", "shape": "square", "filled": true, "size": 20, "color": "#111", "opacity": 1, "strokeWidth": 0},
       "encoding": {"x": {"field": "x", "type": "quantitative", "scale": {"domain": [0, 1023], "nice": false, "zero": false}, "axis": null}, "y": {"field": "y", "type": "quantitative", "scale": {"domain": [0, 1023], "nice": false, "zero": false}, "axis": null}}},
      {"data": {"name": "gateA"}, "mark": {"type": "line", "color": "#333", "strokeWidth": 1.4},
       "encoding": {"x": {"field": "x", "type": "quantitative", "scale": {"domain": [0, 1023], "nice": false, "zero": false}, "axis": null}, "y": {"field": "y", "type": "quantitative", "scale": {"domain": [0, 1023], "nice": false, "zero": false}, "axis": null}, "order": {"field": "i", "type": "quantitative"}}},
      {"data": {"values": [{"t": "R1", "x": 543, "y": 471}]}, "mark": {"type": "text", "fontSize": 14, "color": "#222"},
       "encoding": {"x": {"field": "x", "type": "quantitative", "scale": {"domain": [0, 1023], "nice": false, "zero": false}, "axis": {"orient": "bottom", "title": "A", "labels": false, "ticks": false, "domain": false, "titleFont": "DejaVu Sans", "titleFontWeight": "bold", "titleFontSize": 18, "titleX": 2, "titleY": 22, "titleAlign": "left", "titleBaseline": "top", "titleColor": "#000"}}, "y": {"field": "y", "type": "quantitative", "scale": {"domain": [0, 1023], "nice": false, "zero": false}, "axis": null}, "text": {"field": "t"}}}
     ]},
    {"hconcat": [
     {"width": 306, "height": 306, "view": {"stroke": "#222", "strokeWidth": 1.2},
      "title": {"text": "S100A8", "anchor": "middle", "frame": "group", "fontSize": 21, "offset": -11},
      "resolve": {"axis": {"x": "independent", "y": "independent"}},
      "layer": [
       {"data": {"name": "b1"}, "mark": {"type": "point", "shape": "square", "filled": true, "size": 6, "color": "#111", "opacity": 1, "strokeWidth": 0},
        "encoding": {"x": {"field": "x", "type": "quantitative", "scale": {"type": "log", "domain": [1, 10000], "nice": false}, "axis": {"orient": "bottom", "title": "Gr1-FITC", "values": [1,2,3,4,5,6,7,8,9,10,20,30,40,50,60,70,80,90,100,200,300,400,500,600,700,800,900,1000,2000,3000,4000,5000,6000,7000,8000,9000,10000], "labelExpr": "datum.value == 1 ? '10⁰' : datum.value == 10 ? '10¹' : datum.value == 100 ? '10²' : datum.value == 1000 ? '10³' : datum.value == 10000 ? '10⁴' : ''", "labelAlign": "left", "labelFontSize": 11, "tickSize": {"condition": {"test": "indexof([1,10,100,1000,10000], datum.value) >= 0", "value": 5}, "value": 3}, "labelPadding": 2, "titleY": 31, "titleBaseline": "top"}},
                     "y": {"field": "y", "type": "quantitative", "scale": {"type": "log", "domain": [1, 10000], "nice": false}, "axis": {"orient": "left", "title": "CD11b-PE", "values": [1,2,3,4,5,6,7,8,9,10,20,30,40,50,60,70,80,90,100,200,300,400,500,600,700,800,900,1000,2000,3000,4000,5000,6000,7000,8000,9000,10000], "labelExpr": "datum.value == 1 ? '10⁰' : datum.value == 10 ? '10¹' : datum.value == 100 ? '10²' : datum.value == 1000 ? '10³' : datum.value == 10000 ? '10⁴' : ''", "labelAngle": -90, "labelAlign": "left", "labelBaseline": "bottom", "labelFontSize": 11, "tickSize": {"condition": {"test": "indexof([1,10,100,1000,10000], datum.value) >= 0", "value": 5}, "value": 3}, "labelPadding": 2, "titleY": 174, "titlePadding": 8}}}},
       {"data": {"name": "b1c"}, "mark": {"type": "point", "shape": "square", "filled": true, "size": 20, "color": "#111", "opacity": 1, "strokeWidth": 0},
        "encoding": {"x": {"field": "x", "type": "quantitative", "scale": {"type": "log", "domain": [1, 10000], "nice": false}, "axis": null}, "y": {"field": "y", "type": "quantitative", "scale": {"type": "log", "domain": [1, 10000], "nice": false}, "axis": null}}},
       {"data": {"values": [{"x": 10.2}]}, "mark": {"type": "rule", "color": "#555", "strokeWidth": 2},
        "encoding": {"x": {"field": "x", "type": "quantitative", "scale": {"type": "log", "domain": [1, 10000], "nice": false}, "axis": null}}},
       {"data": {"values": [{"y": 10}]}, "mark": {"type": "rule", "color": "#555", "strokeWidth": 2},
        "encoding": {"y": {"field": "y", "type": "quantitative", "scale": {"type": "log", "domain": [1, 10000], "nice": false}, "axis": null}}},
       {"data": {"values": [{"x": 11.6, "x2": 9000, "y": 11.3, "y2": 8700}]}, "mark": {"type": "rect", "filled": false, "color": "#444", "strokeWidth": 3.6},
        "encoding": {"x": {"field": "x", "type": "quantitative", "scale": {"type": "log", "domain": [1, 10000], "nice": false}, "axis": null}, "x2": {"field": "x2"}, "y": {"field": "y", "type": "quantitative", "scale": {"type": "log", "domain": [1, 10000], "nice": false}, "axis": null}, "y2": {"field": "y2"}}},
       {"data": {"values": [{"x": 11.6, "x2": 9000, "y": 11.3, "y2": 8700}]}, "mark": {"type": "rect", "filled": false, "color": "#fff", "strokeWidth": 1.4},
        "encoding": {"x": {"field": "x", "type": "quantitative", "scale": {"type": "log", "domain": [1, 10000], "nice": false}, "axis": null}, "x2": {"field": "x2"}, "y": {"field": "y", "type": "quantitative", "scale": {"type": "log", "domain": [1, 10000], "nice": false}, "axis": null}, "y2": {"field": "y2"}}},
       {"data": {"values": [{"t": "R2", "x": 354, "y": 305}]}, "mark": {"type": "text", "fontSize": 14, "color": "#222"},
        "encoding": {"x": {"field": "x", "type": "quantitative", "scale": {"type": "log", "domain": [1, 10000], "nice": false}, "axis": {"orient": "bottom", "title": "B", "labels": false, "ticks": false, "domain": false, "titleFont": "DejaVu Sans", "titleFontWeight": "bold", "titleFontSize": 18, "titleX": -6, "titleY": 28, "titleAlign": "left", "titleBaseline": "top", "titleColor": "#000"}}, "y": {"field": "y", "type": "quantitative", "scale": {"type": "log", "domain": [1, 10000], "nice": false}, "axis": null}, "text": {"field": "t"}}}
      ]},
     {"width": 307, "height": 306, "view": {"stroke": "#222", "strokeWidth": 1.2},
      "resolve": {"axis": {"x": "independent", "y": "independent"}},
      "layer": [
       {"data": {"name": "c1"}, "mark": {"type": "point", "shape": "square", "filled": true, "size": 5, "color": "#111", "opacity": 1, "strokeWidth": 0},
        "encoding": {"x": {"field": "x", "type": "quantitative", "scale": {"domain": [0, 1023], "nice": false, "zero": false}, "axis": {"orient": "bottom", "title": "SSC", "values": [0,40,80,120,160,200,240,280,320,360,400,440,480,520,560,600,640,680,720,760,800,840,880,920,960,1000,1023], "format": "d", "labelExpr": "datum.value == 0 || datum.value == 1023 ? datum.label : ''", "labelAlign": {"condition": {"test": "datum.value == 1023", "value": "right"}, "value": "center"}, "tickSize": 4, "labelPadding": 0, "titleY": 26, "titleBaseline": "top"}},
                     "y": {"field": "y", "type": "quantitative", "scale": {"type": "log", "domain": [1, 10000], "nice": false}, "axis": {"orient": "left", "title": "S100A8-AF647", "values": [1,2,3,4,5,6,7,8,9,10,20,30,40,50,60,70,80,90,100,200,300,400,500,600,700,800,900,1000,2000,3000,4000,5000,6000,7000,8000,9000,10000], "labelExpr": "datum.value == 1 ? '10⁰' : datum.value == 10 ? '10¹' : datum.value == 100 ? '10²' : datum.value == 1000 ? '10³' : datum.value == 10000 ? '10⁴' : ''", "labelAngle": -90, "labelAlign": "left", "labelBaseline": "bottom", "labelFontSize": 11, "tickSize": {"condition": {"test": "indexof([1,10,100,1000,10000], datum.value) >= 0", "value": 5}, "value": 3}, "labelPadding": 2, "titleY": 169, "titlePadding": 8}}}},
       {"data": {"values": [{"y": 10.2}]}, "mark": {"type": "rule", "color": "#444", "strokeWidth": 1.5},
        "encoding": {"y": {"field": "y", "type": "quantitative", "scale": {"type": "log", "domain": [1, 10000], "nice": false}, "axis": null}}},
       {"data": {"values": [{"x": 986}, {"x": 993}]}, "mark": {"type": "rule", "color": "#444", "strokeWidth": 1.3},
        "encoding": {"x": {"field": "x", "type": "quantitative", "scale": {"domain": [0, 1023], "nice": false, "zero": false}, "axis": null}}},
       {"data": {"values": [{"t": "6,3%", "x": 880, "y": 5300}]}, "mark": {"type": "text", "fontSize": 22, "color": "#111"},
        "encoding": {"x": {"field": "x", "type": "quantitative", "scale": {"domain": [0, 1023], "nice": false, "zero": false}, "axis": {"orient": "bottom", "title": "C", "labels": false, "ticks": false, "domain": false, "titleFont": "DejaVu Sans", "titleFontWeight": "bold", "titleFontSize": 18, "titleX": 14, "titleY": 36, "titleAlign": "left", "titleBaseline": "top", "titleColor": "#000"}}, "y": {"field": "y", "type": "quantitative", "scale": {"type": "log", "domain": [1, 10000], "nice": false}, "axis": null}, "text": {"field": "t"}}}
      ]}
    ], "spacing": 76, "bounds": "flush"}
  ], "spacing": 60, "bounds": "flush"},
  {"width": 10, "height": 415, "data": {"values": []}, "mark": {"type": "rule"}, "encoding": {}},
  {"hconcat": [
     {"width": 40, "height": 1, "data": {"values": []}, "mark": {"type": "rule"}, "encoding": {}},
     {"width": 305, "height": 306, "view": {"stroke": "#222", "strokeWidth": 1.2},
      "title": {"text": "2", "anchor": "start", "frame": "group", "fontSize": 18, "offset": 18},
      "resolve": {"axis": {"x": "independent", "y": "independent"}},
      "layer": [
       {"data": {"name": "a2"}, "mark": {"type": "point", "shape": "square", "filled": true, "size": 6, "color": "#111", "opacity": 1, "strokeWidth": 0},
        "encoding": {"x": {"field": "x", "type": "quantitative", "scale": {"domain": [0, 1023], "nice": false, "zero": false}, "axis": {"orient": "bottom", "title": "FSC", "values": [0,40,80,120,160,200,240,280,320,360,400,440,480,520,560,600,640,680,720,760,800,840,880,920,960,1000,1023], "format": "d", "labelExpr": "datum.value == 0 || datum.value == 1023 ? datum.label : ''", "labelAlign": {"condition": {"test": "datum.value == 1023", "value": "right"}, "value": "center"}, "tickSize": 4, "labelPadding": 0, "titleY": 28, "titleBaseline": "top"}},
                     "y": {"field": "y", "type": "quantitative", "scale": {"domain": [0, 1023], "nice": false, "zero": false}, "axis": {"orient": "left", "title": "SSC", "values": [0,40,80,120,160,200,240,280,320,360,400,440,480,520,560,600,640,680,720,760,800,840,880,920,960,1000,1023], "format": "d", "labelExpr": "datum.value == 0 || datum.value == 1023 ? datum.label : ''", "labelAngle": -90, "labelAlign": {"condition": {"test": "datum.value == 1023", "value": "right"}, "value": "center"}, "labelBaseline": "bottom", "tickSize": 4, "labelPadding": 1, "titlePadding": 4}}}},
       {"data": {"name": "a2c"}, "mark": {"type": "point", "shape": "square", "filled": true, "size": 20, "color": "#111", "opacity": 1, "strokeWidth": 0},
        "encoding": {"x": {"field": "x", "type": "quantitative", "scale": {"domain": [0, 1023], "nice": false, "zero": false}, "axis": null}, "y": {"field": "y", "type": "quantitative", "scale": {"domain": [0, 1023], "nice": false, "zero": false}, "axis": null}}},
       {"data": {"name": "gateA"}, "mark": {"type": "line", "color": "#333", "strokeWidth": 1.4},
        "encoding": {"x": {"field": "x", "type": "quantitative", "scale": {"domain": [0, 1023], "nice": false, "zero": false}, "axis": null}, "y": {"field": "y", "type": "quantitative", "scale": {"domain": [0, 1023], "nice": false, "zero": false}, "axis": null}, "order": {"field": "i", "type": "quantitative"}}},
       {"data": {"values": [{"t": "R1", "x": 543, "y": 475}]}, "mark": {"type": "text", "fontSize": 14, "color": "#222"},
        "encoding": {"x": {"field": "x", "type": "quantitative", "scale": {"domain": [0, 1023], "nice": false, "zero": false}, "axis": {"orient": "bottom", "title": "A", "labels": false, "ticks": false, "domain": false, "titleFont": "DejaVu Sans", "titleFontWeight": "bold", "titleFontSize": 18, "titleX": 0, "titleY": 54, "titleAlign": "left", "titleBaseline": "top", "titleColor": "#000"}}, "y": {"field": "y", "type": "quantitative", "scale": {"domain": [0, 1023], "nice": false, "zero": false}, "axis": null}, "text": {"field": "t"}}}
      ]},
     {"hconcat": [
      {"width": 306, "height": 306, "view": {"stroke": "#222", "strokeWidth": 1.2},
       "title": {"text": "S100A9", "anchor": "middle", "frame": "group", "fontSize": 21, "offset": 6},
       "resolve": {"axis": {"x": "independent", "y": "independent"}},
       "layer": [
        {"data": {"name": "b2"}, "mark": {"type": "point", "shape": "square", "filled": true, "size": 6, "color": "#111", "opacity": 1, "strokeWidth": 0},
         "encoding": {"x": {"field": "x", "type": "quantitative", "scale": {"type": "log", "domain": [1, 10000], "nice": false}, "axis": {"orient": "bottom", "title": "Gr1-FITC", "values": [1,2,3,4,5,6,7,8,9,10,20,30,40,50,60,70,80,90,100,200,300,400,500,600,700,800,900,1000,2000,3000,4000,5000,6000,7000,8000,9000,10000], "labelExpr": "datum.value == 1 ? '10⁰' : datum.value == 10 ? '10¹' : datum.value == 100 ? '10²' : datum.value == 1000 ? '10³' : datum.value == 10000 ? '10⁴' : ''", "labelAlign": "left", "labelFontSize": 11, "tickSize": {"condition": {"test": "indexof([1,10,100,1000,10000], datum.value) >= 0", "value": 5}, "value": 3}, "labelPadding": 2, "titleY": 28, "titleBaseline": "top"}},
                      "y": {"field": "y", "type": "quantitative", "scale": {"type": "log", "domain": [1, 10000], "nice": false}, "axis": {"orient": "left", "title": "CD11b-PE", "values": [1,2,3,4,5,6,7,8,9,10,20,30,40,50,60,70,80,90,100,200,300,400,500,600,700,800,900,1000,2000,3000,4000,5000,6000,7000,8000,9000,10000], "labelExpr": "datum.value == 1 ? '10⁰' : datum.value == 10 ? '10¹' : datum.value == 100 ? '10²' : datum.value == 1000 ? '10³' : datum.value == 10000 ? '10⁴' : ''", "labelAngle": -90, "labelAlign": "left", "labelBaseline": "bottom", "labelFontSize": 11, "tickSize": {"condition": {"test": "indexof([1,10,100,1000,10000], datum.value) >= 0", "value": 5}, "value": 3}, "labelPadding": 2, "titlePadding": 8}}}},
        {"data": {"name": "b2c"}, "mark": {"type": "point", "shape": "square", "filled": true, "size": 20, "color": "#111", "opacity": 1, "strokeWidth": 0},
         "encoding": {"x": {"field": "x", "type": "quantitative", "scale": {"type": "log", "domain": [1, 10000], "nice": false}, "axis": null}, "y": {"field": "y", "type": "quantitative", "scale": {"type": "log", "domain": [1, 10000], "nice": false}, "axis": null}}},
        {"data": {"values": [{"x": 10.2}]}, "mark": {"type": "rule", "color": "#555", "strokeWidth": 2},
         "encoding": {"x": {"field": "x", "type": "quantitative", "scale": {"type": "log", "domain": [1, 10000], "nice": false}, "axis": null}}},
        {"data": {"values": [{"y": 10.1}]}, "mark": {"type": "rule", "color": "#555", "strokeWidth": 2},
         "encoding": {"y": {"field": "y", "type": "quantitative", "scale": {"type": "log", "domain": [1, 10000], "nice": false}, "axis": null}}},
        {"data": {"values": [{"x": 11.6, "x2": 8300, "y": 10.7, "y2": 9300}]}, "mark": {"type": "rect", "filled": false, "color": "#444", "strokeWidth": 3.6},
         "encoding": {"x": {"field": "x", "type": "quantitative", "scale": {"type": "log", "domain": [1, 10000], "nice": false}, "axis": null}, "x2": {"field": "x2"}, "y": {"field": "y", "type": "quantitative", "scale": {"type": "log", "domain": [1, 10000], "nice": false}, "axis": null}, "y2": {"field": "y2"}}},
        {"data": {"values": [{"x": 11.6, "x2": 8300, "y": 10.7, "y2": 9300}]}, "mark": {"type": "rect", "filled": false, "color": "#fff", "strokeWidth": 1.4},
         "encoding": {"x": {"field": "x", "type": "quantitative", "scale": {"type": "log", "domain": [1, 10000], "nice": false}, "axis": null}, "x2": {"field": "x2"}, "y": {"field": "y", "type": "quantitative", "scale": {"type": "log", "domain": [1, 10000], "nice": false}, "axis": null}, "y2": {"field": "y2"}}},
        {"data": {"values": [{"t": "R2", "x": 333, "y": 316}]}, "mark": {"type": "text", "fontSize": 14, "color": "#222"},
         "encoding": {"x": {"field": "x", "type": "quantitative", "scale": {"type": "log", "domain": [1, 10000], "nice": false}, "axis": {"orient": "bottom", "title": "B", "labels": false, "ticks": false, "domain": false, "titleFont": "DejaVu Sans", "titleFontWeight": "bold", "titleFontSize": 18, "titleX": -14, "titleY": 56, "titleAlign": "left", "titleBaseline": "top", "titleColor": "#000"}}, "y": {"field": "y", "type": "quantitative", "scale": {"type": "log", "domain": [1, 10000], "nice": false}, "axis": null}, "text": {"field": "t"}}}
       ]},
      {"width": 307, "height": 306, "view": {"stroke": "#222", "strokeWidth": 1.2},
       "resolve": {"axis": {"x": "independent", "y": "independent"}},
       "layer": [
        {"data": {"name": "c2"}, "mark": {"type": "point", "shape": "square", "filled": true, "size": 5, "color": "#111", "opacity": 1, "strokeWidth": 0},
         "encoding": {"x": {"field": "x", "type": "quantitative", "scale": {"domain": [0, 1023], "nice": false, "zero": false}, "axis": {"orient": "bottom", "title": "SSC", "values": [0,40,80,120,160,200,240,280,320,360,400,440,480,520,560,600,640,680,720,760,800,840,880,920,960,1000,1023], "format": "d", "labelExpr": "datum.value == 0 || datum.value == 1023 ? datum.label : ''", "labelAlign": {"condition": {"test": "datum.value == 1023", "value": "right"}, "value": "center"}, "tickSize": 4, "labelPadding": 0, "titleY": 28, "titleBaseline": "top"}},
                      "y": {"field": "y", "type": "quantitative", "scale": {"type": "log", "domain": [1, 10000], "nice": false}, "axis": {"orient": "left", "title": "S100A9-AF647", "values": [1,2,3,4,5,6,7,8,9,10,20,30,40,50,60,70,80,90,100,200,300,400,500,600,700,800,900,1000,2000,3000,4000,5000,6000,7000,8000,9000,10000], "labelExpr": "datum.value == 1 ? '10⁰' : datum.value == 10 ? '10¹' : datum.value == 100 ? '10²' : datum.value == 1000 ? '10³' : datum.value == 10000 ? '10⁴' : ''", "labelAngle": -90, "labelAlign": "left", "labelBaseline": "bottom", "labelFontSize": 11, "tickSize": {"condition": {"test": "indexof([1,10,100,1000,10000], datum.value) >= 0", "value": 5}, "value": 3}, "labelPadding": 2, "titlePadding": 8}}}},
        {"data": {"values": [{"y": 10.4}]}, "mark": {"type": "rule", "color": "#444", "strokeWidth": 1.5},
         "encoding": {"y": {"field": "y", "type": "quantitative", "scale": {"type": "log", "domain": [1, 10000], "nice": false}, "axis": null}}},
        {"data": {"values": [{"x": 986}, {"x": 993}]}, "mark": {"type": "rule", "color": "#444", "strokeWidth": 1.3},
         "encoding": {"x": {"field": "x", "type": "quantitative", "scale": {"domain": [0, 1023], "nice": false, "zero": false}, "axis": null}}},
        {"data": {"values": [{"t": "6,5%", "x": 880, "y": 5300}]}, "mark": {"type": "text", "fontSize": 22, "color": "#111"},
         "encoding": {"x": {"field": "x", "type": "quantitative", "scale": {"domain": [0, 1023], "nice": false, "zero": false}, "axis": {"orient": "bottom", "title": "C", "labels": false, "ticks": false, "domain": false, "titleFont": "DejaVu Sans", "titleFontWeight": "bold", "titleFontSize": 18, "titleX": 6, "titleY": 55, "titleAlign": "left", "titleBaseline": "top", "titleColor": "#000"}}, "y": {"field": "y", "type": "quantitative", "scale": {"type": "log", "domain": [1, 10000], "nice": false}, "axis": null}, "text": {"field": "t"}}}
       ]}
     ], "spacing": 72, "bounds": "flush"}
  ], "spacing": 64, "bounds": "flush"},
  {"width": 10, "height": 404, "data": {"values": []}, "mark": {"type": "rule"}, "encoding": {}},
  {"width": 1240, "height": 154,
   "layer": [
    {"data": {"values": [{"n": 1, "t": "Abb. 29: Durchflusszytometrie"}, {"n": 2, "t": "Zellen der Milz"}]},
     "mark": {"type": "text", "align": "left", "baseline": "middle", "fontSize": 25, "fontWeight": "bold", "dx": 16, "color": "#000"},
     "encoding": {"x": {"datum": 0, "type": "quantitative", "scale": {"domain": [0, 1], "nice": false}, "axis": null}, "y": {"field": "n", "type": "quantitative", "scale": {"domain": [0.5, 6.5], "reverse": true, "nice": false, "zero": false}, "axis": null}, "text": {"field": "t"}}},
    {"data": {"values": [{"n": 1, "t": "zum Nachweis von S100A8 und"}]},
     "mark": {"type": "text", "align": "center", "baseline": "middle", "fontSize": 25, "fontWeight": "bold", "color": "#000"},
     "encoding": {"x": {"datum": 0.5, "type": "quantitative", "scale": {"domain": [0, 1], "nice": false}, "axis": null}, "y": {"field": "n", "type": "quantitative", "scale": {"domain": [0.5, 6.5], "reverse": true, "nice": false, "zero": false}, "axis": null}, "text": {"field": "t"}}},
    {"data": {"values": [{"n": 1, "t": "S100A9 Protein in CD11b⁺ Gr-1⁺"}]},
     "mark": {"type": "text", "align": "right", "baseline": "middle", "fontSize": 25, "fontWeight": "bold", "dx": -12, "color": "#000"},
     "encoding": {"x": {"datum": 1, "type": "quantitative", "scale": {"domain": [0, 1], "nice": false}, "axis": null}, "y": {"field": "n", "type": "quantitative", "scale": {"domain": [0.5, 6.5], "reverse": true, "nice": false, "zero": false}, "axis": null}, "text": {"field": "t"}}},
    {"data": {"values": [{"n": 3, "t": "Beispielhafte Darstellung von (1)"}, {"n": 4, "t": "einer A.BY/SnJ Maus. (A)"}, {"n": 5, "t": "Gr-1⁺Zellen (R2) wird (C) der"}, {"n": 6, "t": "bestimmt."}]},
     "mark": {"type": "text", "align": "left", "baseline": "middle", "fontSize": 25, "dx": 16, "color": "#000"},
     "encoding": {"x": {"datum": 0, "type": "quantitative", "scale": {"domain": [0, 1], "nice": false}, "axis": null}, "y": {"field": "n", "type": "quantitative", "scale": {"domain": [0.5, 6.5], "reverse": true, "nice": false, "zero": false}, "axis": null}, "text": {"field": "t"}}},
    {"data": {"values": [{"n": 3, "t": "S100A8 Protein und (2) S100A9"}, {"n": 4, "t": "Ausschluss von Zelltrümmern (R1= vitale"}, {"n": 5, "t": "prozentuale Anteil an S100A8/MRP8⁺"}]},
     "mark": {"type": "text", "align": "center", "baseline": "middle", "fontSize": 25, "color": "#000"},
     "encoding": {"x": {"datum": 0.5, "type": "quantitative", "scale": {"domain": [0, 1], "nice": false}, "axis": null}, "y": {"field": "n", "type": "quantitative", "scale": {"domain": [0.5, 6.5], "reverse": true, "nice": false, "zero": false}, "axis": null}, "text": {"field": "t"}}},
    {"data": {"values": [{"n": 3, "t": "Protein in MDSC aus einer Milz"}, {"n": 4, "t": "Zellen). (B) Von den CD11b⁺"}, {"n": 5, "t": "bzw. S100A9/MRP14⁺ Zellen"}]},
     "mark": {"type": "text", "align": "right", "baseline": "middle", "fontSize": 25, "dx": -12, "color": "#000"},
     "encoding": {"x": {"datum": 1, "type": "quantitative", "scale": {"domain": [0, 1], "nice": false}, "axis": null}, "y": {"field": "n", "type": "quantitative", "scale": {"domain": [0.5, 6.5], "reverse": true, "nice": false, "zero": false}, "axis": null}, "text": {"field": "t"}}}
   ]}
 ], "spacing": 0, "bounds": "flush"}
], "spacing": 0, "bounds": "flush"
}
